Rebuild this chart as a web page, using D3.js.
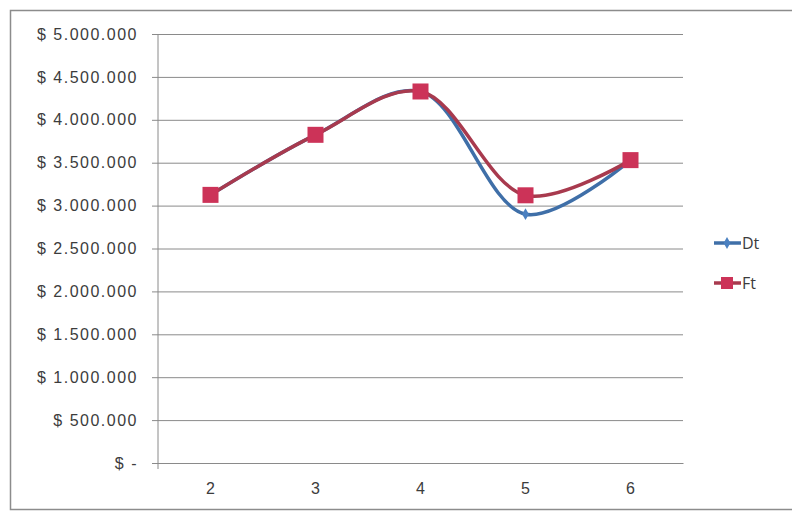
<!DOCTYPE html>
<html>
<head>
<meta charset="utf-8">
<script src="https://cdn.jsdelivr.net/npm/d3@7"></script>
<style>
  html, body { margin: 0; padding: 0; background: #fff; }
  svg { display: block; font-family: "Open Sans", "Liberation Sans", sans-serif; }
</style>
</head>
<body>
<svg id="chart" width="792" height="512"></svg>
<script>
// Periods and series values
const periods = ["2", "3", "4", "5", "6"];
const dtValues = [3125000, 3825000, 4330000, 2900000, 3530000];
const ftValues = [3125000, 3825000, 4330000, 3120000, 3530000];
const yTicks = [0, 500000, 1000000, 1500000, 2000000, 2500000, 3000000, 3500000, 4000000, 4500000, 5000000];
const seriesNames = ["Dt", "Ft"];

const svg = d3.select("#chart");
const textColor = "#3c3c3c";
const fontSize = 16;

// Outer chart frame
svg.append("rect")
  .attr("x", 10.5).attr("y", 10.5)
  .attr("width", 790).attr("height", 499)
  .attr("fill", "#fff")
  .attr("stroke", "#8c8c8c").attr("stroke-width", 1.5);

const plot = { left: 158, right: 683, top: 34, bottom: 463 };

const x = d3.scaleBand().domain(periods).range([plot.left, plot.right]);
const y = d3.scaleLinear().domain([0, 5000000]).range([plot.bottom, plot.top]);

// Currency labels in the "$ 1.500.000" style, zero shown as "$ -"
const fmt = v => v === 0 ? "$ -" : "$ " + d3.format(",")(v).replace(/,/g, ".");

// Horizontal gridlines with the value axis
const yAxis = d3.axisLeft(y)
  .tickValues(yTicks)
  .tickSize(-(plot.right - plot.left))
  .tickSizeOuter(0)
  .tickPadding(20)
  .tickFormat(fmt);

const gy = svg.append("g")
  .attr("transform", `translate(${plot.left},0)`)
  .call(yAxis);
gy.select(".domain").remove();
gy.selectAll(".tick line")
  .attr("x1", -6)
  .attr("stroke", "#8a8a8a").attr("stroke-width", 1);
gy.selectAll(".tick text")
  .attr("fill", textColor)
  .attr("font-size", fontSize)
  .attr("letter-spacing", 1.5);

// Vertical value axis line
svg.append("line")
  .attr("x1", plot.left).attr("x2", plot.left)
  .attr("y1", plot.top).attr("y2", plot.bottom + 6)
  .attr("stroke", "#8a8a8a");

// Category axis
const xAxis = d3.axisBottom(x).tickSize(0).tickPadding(20);
const gx = svg.append("g")
  .attr("transform", `translate(0,${plot.bottom})`)
  .call(xAxis);
gx.select(".domain").attr("stroke", "#8a8a8a");
gx.selectAll(".tick text")
  .attr("fill", textColor)
  .attr("font-size", fontSize);

const cx = d => x(d) + x.bandwidth() / 2;

const line = d3.line()
  .x((d, i) => cx(periods[i]))
  .y(d => y(d))
  .curve(d3.curveCatmullRom.alpha(0.5));

// Dt series (blue, small diamonds)
svg.append("path")
  .datum(dtValues)
  .attr("d", line)
  .attr("fill", "none")
  .attr("stroke", "#3f6fa8").attr("stroke-width", 3.5);
svg.selectAll(".dt-mark")
  .data(dtValues)
  .enter().append("path")
  .attr("class", "dt-mark")
  .attr("transform", (d, i) => `translate(${cx(periods[i])},${y(d)})`)
  .attr("d", d3.symbol(d3.symbolDiamond, 40))
  .attr("fill", "#4a80c0");

// Ft series (red, squares)
svg.append("path")
  .datum(ftValues)
  .attr("d", line)
  .attr("fill", "none")
  .attr("stroke", "#a83a4e").attr("stroke-width", 3.5);
svg.selectAll(".ft-mark")
  .data(ftValues)
  .enter().append("rect")
  .attr("class", "ft-mark")
  .attr("x", (d, i) => cx(periods[i]) - 8)
  .attr("y", d => y(d) - 8)
  .attr("width", 16).attr("height", 16)
  .attr("fill", "#cc3358");

// Legend
const legend = svg.append("g").attr("transform", "translate(714,243)");
const legendColors = ["#3f6fa8", "#a83a4e"];
seriesNames.forEach((name, i) => {
  const g = legend.append("g").attr("transform", `translate(0,${i * 40})`);
  g.append("line").attr("x1", 0).attr("x2", 27).attr("y1", 0).attr("y2", 0)
    .attr("stroke", legendColors[i]).attr("stroke-width", 3.5);
  if (i === 0) {
    g.append("path").attr("transform", "translate(13,0)")
      .attr("d", d3.symbol(d3.symbolDiamond, 40)).attr("fill", "#4a80c0");
  } else {
    g.append("rect").attr("x", 7).attr("y", -6).attr("width", 12).attr("height", 12)
      .attr("fill", "#cc3358");
  }
  g.append("text").attr("x", 28).attr("y", 6)
    .attr("fill", textColor).attr("font-size", fontSize)
    .text(name);
});
</script>
</body>
</html>
